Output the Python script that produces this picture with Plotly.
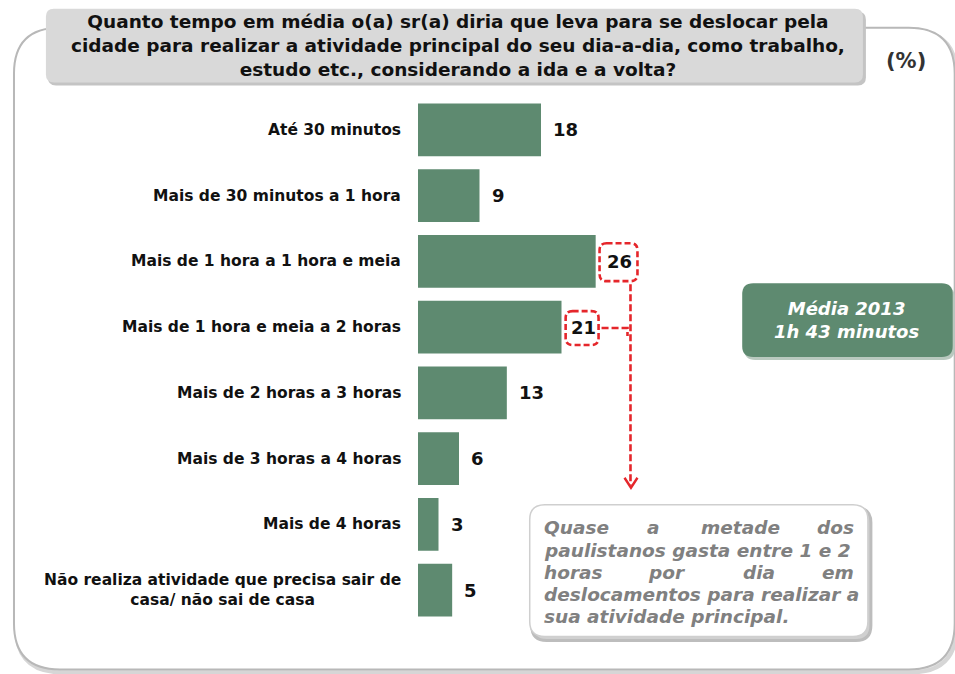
import plotly.graph_objects as go

categories = [
    "Até 30 minutos",
    "Mais de 30 minutos a 1 hora",
    "Mais de 1 hora a 1 hora e meia",
    "Mais de 1 hora e meia a 2 horas",
    "Mais de 2 horas a 3 horas",
    "Mais de 3 horas a 4 horas",
    "Mais de 4 horas",
    "Não realiza atividade que precisa sair de<br>casa/ não sai de casa",
]
values = [18, 9, 26, 21, 13, 6, 3, 5]
highlight = [2, 3]

title_text = ("Quanto tempo em média o(a) sr(a) diria que leva para se deslocar pela<br>"
              "cidade para realizar a atividade principal do seu dia-a-dia, como trabalho,<br>"
              "estudo etc., considerando a ida e a volta?")
unit_text = "(%)"
media_text = "Média 2013<br>1h 43 minutos"
note_lines = [
    ["Quase", "a", "metade", "dos"],
    ["paulistanos gasta entre 1 e 2"],
    ["horas", "por", "dia", "em"],
    ["deslocamentos para realizar a"],
    ["sua atividade principal."],
]

W, H = 955, 674
L, T = 418, 96.5
PW, PH = 205.5, 527
XMAX = 30
BAR = "#5e8a70"
RED = "#e5262b"
FONT = "DejaVu Sans"


def px(X):
    return (X - L) / PW


def py(Y):
    return (T + PH - Y) / PH


def rrect(x0, y0, x1, y1, r):
    pts = [
        ("M", [(x0 + r, y0)]), ("L", [(x1 - r, y0)]), ("Q", [(x1, y0), (x1, y0 + r)]),
        ("L", [(x1, y1 - r)]), ("Q", [(x1, y1), (x1 - r, y1)]), ("L", [(x0 + r, y1)]),
        ("Q", [(x0, y1), (x0, y1 - r)]), ("L", [(x0, y0 + r)]), ("Q", [(x0, y0), (x0 + r, y0)]),
    ]
    s = ""
    for cmd, ps in pts:
        s += cmd + " " + " ".join(f"{px(a):.5f},{py(b):.5f}" for a, b in ps) + " "
    return s + "Z"


def poly(points):
    return "M " + " L ".join(f"{px(a):.5f},{py(b):.5f}" for a, b in points)


fig = go.Figure()
fig.add_trace(go.Bar(
    x=values, y=list(range(len(values))), orientation="h",
    marker=dict(color=BAR, line=dict(width=0)), hoverinfo="skip",
))

shapes = []
# outer panel: shadow + panel
shapes.append(dict(type="path", xref="paper", yref="paper", layer="below",
                   path=rrect(15, 30, 958, 673, 46), line=dict(color="#d6d6d6", width=4),
                   fillcolor="#e6e6e6"))
shapes.append(dict(type="path", xref="paper", yref="paper", layer="below",
                   path=rrect(13, 27, 956, 670, 46), line=dict(color="#b8b8b8", width=2),
                   fillcolor="white"))
# title box
shapes.append(dict(type="path", xref="paper", yref="paper", layer="below",
                   path=rrect(47, 11, 867, 85, 8), line=dict(width=0), fillcolor="#c4c4c4"))
shapes.append(dict(type="path", xref="paper", yref="paper", layer="below",
                   path=rrect(45, 8, 864, 82, 8), line=dict(width=0), fillcolor="#d9d9d9"))
# green average box
shapes.append(dict(type="path", xref="paper", yref="paper", layer="below",
                   path=rrect(745, 286, 956, 360, 11), line=dict(width=0), fillcolor="#b9c9bf"))
shapes.append(dict(type="path", xref="paper", yref="paper", layer="below",
                   path=rrect(743, 283, 954, 357, 11), line=dict(width=0), fillcolor=BAR))
# note box
shapes.append(dict(type="path", xref="paper", yref="paper", layer="below",
                   path=rrect(532, 508, 872, 641, 15), line=dict(color="#bdbdbd", width=3),
                   fillcolor="#d0d0d0"))
shapes.append(dict(type="path", xref="paper", yref="paper", layer="below",
                   path=rrect(530, 505, 869, 637, 15), line=dict(color="#cfcfcf", width=1.5),
                   fillcolor="white"))
# red dashed highlight boxes
shapes.append(dict(type="path", xref="paper", yref="paper",
                   path=rrect(600, 243, 638, 281, 7), line=dict(color=RED, width=2.6, dash="6px,3px")))
shapes.append(dict(type="path", xref="paper", yref="paper",
                   path=rrect(566, 311, 599, 345, 7), line=dict(color=RED, width=2.6, dash="6px,3px")))
# connector lines
shapes.append(dict(type="path", xref="paper", yref="paper",
                   path=poly([(631, 284), (631, 485)]), line=dict(color=RED, width=2.6, dash="7px,3px")))
shapes.append(dict(type="path", xref="paper", yref="paper",
                   path=poly([(602, 328), (628, 328), (628, 336)]),
                   line=dict(color=RED, width=2.6, dash="7px,3px")))
shapes.append(dict(type="path", xref="paper", yref="paper",
                   path=poly([(625, 478), (631.5, 488), (638, 478)]), line=dict(color=RED, width=2.4)))

ann = []
# category labels
for i, c in enumerate(categories):
    ann.append(dict(x=0, xref="paper", y=i, yref="y", text=c, showarrow=False,
                    xanchor="right", xshift=-15, align="center",
                    font=dict(family=FONT, size=15.5, color="#111111", weight="bold")))
# value labels
for i, v in enumerate(values):
    xs = 10 if i not in highlight else (9 if i == 2 else 7)
    ann.append(dict(x=v, xref="x", y=i, yref="y", text=str(v), showarrow=False,
                    xanchor="left", xshift=xs,
                    font=dict(family=FONT, size=18, color="#111111", weight="bold")))
# title
ann.append(dict(x=px(458), y=py(45), xref="paper", yref="paper", text=title_text, showarrow=False,
                xanchor="center", yanchor="middle", align="center",
                font=dict(family=FONT, size=18.5, color="#111111", weight="bold")))
ann.append(dict(x=px(907), y=py(60), xref="paper", yref="paper", text=unit_text, showarrow=False,
                xanchor="center", yanchor="middle",
                font=dict(family=FONT, size=21, color="#333333", weight="bold")))
# media box text
ann.append(dict(x=px(848), y=py(320), xref="paper", yref="paper", text=media_text, showarrow=False,
                xanchor="center", yanchor="middle", align="center",
                font=dict(family=FONT, size=18, color="white", weight="bold", style="italic")))
# note text (justified)
note_font = dict(family=FONT, size=18.5, color="#808080", weight="bold", style="italic")
line_y = [528, 551, 573, 595, 617]
word_pos = {
    0: [(542, "left"), (654, "center"), (741, "center"), (857, "right")],
    2: [(542, "left"), (668, "center"), (760, "center"), (857, "right")],
}
for li, words in enumerate(note_lines):
    if li in word_pos:
        for w, (xp, anc) in zip(words, word_pos[li]):
            ann.append(dict(x=px(xp), y=py(line_y[li]), xref="paper", yref="paper", text=w,
                            showarrow=False, xanchor=anc, yanchor="middle", font=note_font))
    else:
        ann.append(dict(x=px(542), y=py(line_y[li]), xref="paper", yref="paper", text=words[0],
                        showarrow=False, xanchor="left", yanchor="middle", font=note_font))

fig.update_layout(
    width=W, height=H,
    margin=dict(l=L, r=W - L - PW, t=T, b=H - T - PH, pad=0),
    paper_bgcolor="white", plot_bgcolor="rgba(0,0,0,0)",
    showlegend=False, bargap=0.196,
    xaxis=dict(range=[0, XMAX], visible=False, fixedrange=True),
    yaxis=dict(range=[len(values) - 0.5, -0.5], visible=False, fixedrange=True),
    shapes=shapes, annotations=ann,
)
fig.write_html(
    "out.html",
    config={"displayModeBar": False},
    post_script="document.body.style.margin='0';document.body.style.overflow='hidden';",
)
